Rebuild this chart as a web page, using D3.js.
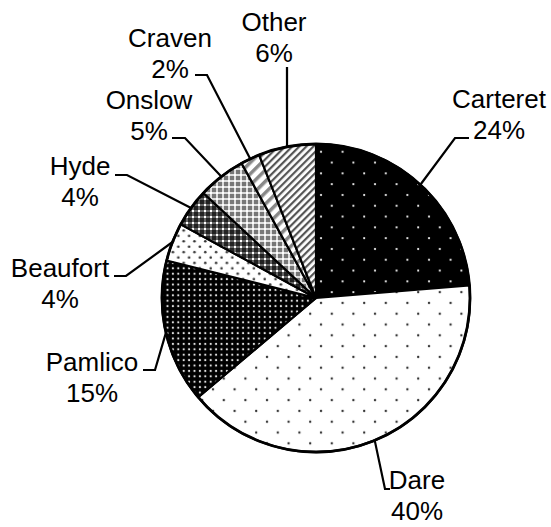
<!DOCTYPE html>
<html><head><meta charset="utf-8">
<script src="https://cdn.jsdelivr.net/npm/d3@7"></script>
<style>html,body{margin:0;padding:0;background:#fff;}svg{display:block;}</style>
</head><body><svg id="c" width="551" height="527"></svg>
<script>
const categories = ["Carteret","Dare","Pamlico","Beaufort","Hyde","Onslow","Craven","Other"];
const values = [23.6,40,15,4,4,5,2,6];
const percentLabels = ["24%","40%","15%","4%","4%","5%","2%","6%"];

// layout (label centres and leader elbows)
const labelX = [499,417,92,60,80,149,170,274];
const labelY = [99,480,362,268,166,100,38,22];
const elbowA = [[455,138],[385,489],[155,370],[126,276],[127,175],[185,138],[207,75],[287,67]];
const elbowB = [[469,138],[390,489],[143,370],[114,276],[115,175],[172,138],[195,75],[287,67]];

const svg = d3.select("#c");
const cx = 316, cy = 298, R = 154;
const defs = svg.append("defs");

function pat(id, w, h, draw){
  const p = defs.append("pattern").attr("id",id).attr("patternUnits","userSpaceOnUse")
    .attr("width",w).attr("height",h);
  draw(p); return "url(#"+id+")";
}
const fills = [
  pat("p0",21.6,21.6,p=>{p.append("rect").attr("width",21.6).attr("height",21.6).attr("fill","#000");
    p.append("circle").attr("cx",5).attr("cy",5).attr("r",1.1).attr("fill","#fff");
    p.append("circle").attr("cx",15.8).attr("cy",15.8).attr("r",1.1).attr("fill","#fff");}),
  pat("p1",21.6,21.6,p=>{p.append("rect").attr("width",21.6).attr("height",21.6).attr("fill","#fff");
    p.append("circle").attr("cx",5).attr("cy",5).attr("r",1.2).attr("fill","#333");
    p.append("circle").attr("cx",15.8).attr("cy",15.8).attr("r",1.2).attr("fill","#333");}),
  pat("p2",5.4,5.4,p=>{p.append("rect").attr("width",5.4).attr("height",5.4).attr("fill","#000");
    p.append("circle").attr("cx",2.7).attr("cy",2.7).attr("r",1.1).attr("fill","#ddd");}),
  pat("p3",10.8,10.8,p=>{p.append("rect").attr("width",10.8).attr("height",10.8).attr("fill","#fff");
    p.append("circle").attr("cx",2.7).attr("cy",2.7).attr("r",1.3).attr("fill","#333");
    p.append("circle").attr("cx",8.1).attr("cy",8.1).attr("r",1.3).attr("fill","#333");}),
  pat("p4",6,6,p=>{p.append("rect").attr("width",6).attr("height",6).attr("fill","#222");
    p.append("rect").attr("x",2).attr("y",0).attr("width",2).attr("height",6).attr("fill","#aaa").attr("opacity",0.5);
    p.append("rect").attr("x",0).attr("y",2).attr("width",6).attr("height",2).attr("fill","#aaa").attr("opacity",0.5);
    p.append("rect").attr("x",2).attr("y",2).attr("width",2).attr("height",2).attr("fill","#fff");}),
  pat("p5",6,6,p=>{p.append("rect").attr("width",6).attr("height",6).attr("fill","#777");
    p.append("rect").attr("x",2).attr("y",0).attr("width",2).attr("height",6).attr("fill","#ddd");
    p.append("rect").attr("x",0).attr("y",2).attr("width",6).attr("height",2).attr("fill","#ddd");
    p.append("rect").attr("x",2).attr("y",2).attr("width",2).attr("height",2).attr("fill","#fff");}),
  pat("p6",8,8,p=>{p.attr("patternTransform","rotate(45)");
    p.append("rect").attr("width",8).attr("height",8).attr("fill","#fff");
    p.append("rect").attr("width",3.5).attr("height",8).attr("fill","#888");}),
  pat("p7",5,5,p=>{p.attr("patternTransform","rotate(45)");
    p.append("rect").attr("width",5).attr("height",5).attr("fill","#fff");
    p.append("rect").attr("width",2.2).attr("height",5).attr("fill","#555");})
];

const pie = d3.pie().sort(null).value(d=>d)(values);
const arc = d3.arc().innerRadius(0).outerRadius(R);
const g = svg.append("g").attr("transform",`translate(${cx},${cy})`);
g.selectAll("path.s").data(pie).join("path").attr("class","s")
  .attr("d",arc).attr("fill",(d,i)=>fills[i])
  .attr("stroke","#000").attr("stroke-width",2.2).attr("stroke-linejoin","round");
g.append("circle").attr("r",R).attr("fill","none").attr("stroke","#000").attr("stroke-width",2.8);

// leader lines
pie.forEach((d,i)=>{
  const a = (d.startAngle+d.endAngle)/2;
  const ax = cx + R*Math.sin(a), ay = cy - R*Math.cos(a);
  const pts = [[ax,ay],elbowA[i],elbowB[i]];
  svg.append("path").attr("d",d3.line()(pts)).attr("fill","none")
    .attr("stroke","#000").attr("stroke-width",2.2);
});

// labels
categories.forEach((c,i)=>{
  const t = svg.append("text").attr("text-anchor","middle")
    .attr("font-family","'Liberation Sans', Arial, sans-serif").attr("font-size",26).attr("fill","#000");
  t.append("tspan").attr("x",labelX[i]).attr("y",labelY[i]).attr("dy","0.36em").text(c);
  t.append("tspan").attr("x",labelX[i]).attr("y",labelY[i]+31).attr("dy","0.36em").text(percentLabels[i]);
});
</script></body></html>
